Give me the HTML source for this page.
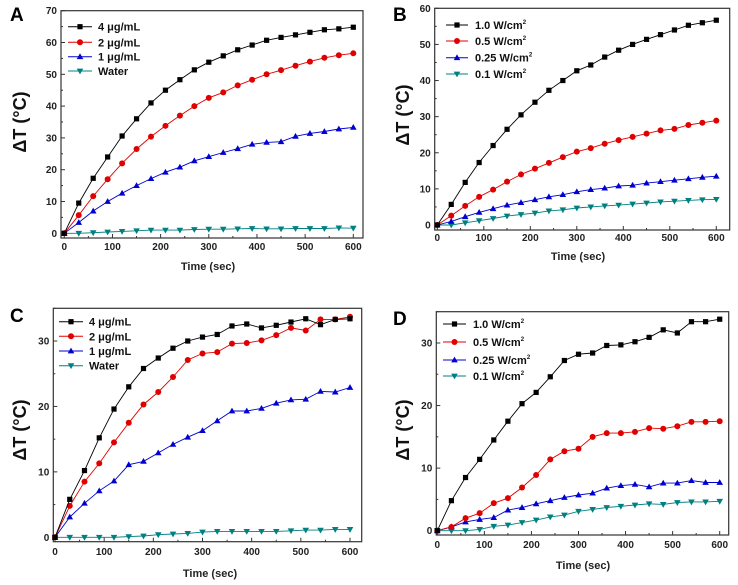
<!DOCTYPE html>
<html><head><meta charset="utf-8"><style>
html,body{margin:0;padding:0;background:#fff;}
svg{display:block;font-family:"Liberation Sans",Arial,sans-serif;font-weight:bold;}
</style></head><body>
<svg id="s" width="738" height="585" xmlns="http://www.w3.org/2000/svg"></svg>
<script>
const S=document.getElementById('s');let h='';
const cols=['#000','#e00000','#0000d0','#008080'];
const panels=[
{L:'A',lx:10,ly:21,fx0:61,fx1:363,fy0:10.7,fy1:238,x0:64.3,x1:353.3,y0:233.3,ymax:70,ystep:10,top:70,
 yl:[20,122],tl:[208,270],tky:250,
 leg:{lx0:68,lx1:92,tx:98,ys:[26.7,42.3,56.7,71]},labels:['4 \u03bcg/mL','2 \u03bcg/mL','1 \u03bcg/mL','Water'],
 d:[[0,9.5,17.3,24,30.6,36,41,45,48.3,51.4,53.8,55.8,57.7,59.2,60.7,61.6,62.4,63.2,64,64.3,64.8],
 [0,5.7,11.7,17,22,26.5,30.4,33.8,37,40,42.6,44.3,46.5,48.3,50,51.3,52.7,54,55.2,56,56.6],
 [0,3.4,7,10,12.6,15,17.2,19.2,20.8,22.8,24.1,25.4,26.6,28,28.6,28.8,30.5,31.4,32,32.8,33.3],
 [0,0,0.2,0.4,0.6,0.8,1,1,1,1.2,1.3,1.3,1.4,1.5,1.4,1.4,1.5,1.5,1.5,1.7,1.6]]},
{L:'B',lx:393,ly:21,fx0:434.7,fx1:729.7,fy0:8.3,fy1:230,x0:437.3,x1:716.3,y0:225,ymax:60,ystep:10,top:60,
 yl:[403,115],tl:[578,260],tky:241,
 leg:{lx0:446,lx1:468,tx:475,ys:[25,41,57.7,74]},labels:['1.0 W/cm','0.5 W/cm','0.25 W/cm','0.1 W/cm'],sup:true,
 d:[[0,5.7,11.8,17.3,22,26.5,30.5,34,37.3,40,42.7,44.3,46.5,48.4,50,51.4,52.7,54,55.3,56,56.7],
 [0,2.6,5.3,7.8,9.8,12,14,15.6,17.2,18.8,20.3,21.3,22.5,23.5,24.4,25.3,26.2,26.6,27.7,28.3,28.9],
 [0,1,2.3,3.5,4.5,5.5,6.2,7,7.8,8.4,9.2,9.8,10.2,10.8,11,11.6,12,12.4,12.8,13.2,13.5],
 [0,0,0.6,1.2,1.8,2.5,2.9,3.3,3.9,4.2,4.7,5,5.3,5.5,5.8,6.1,6.4,6.6,6.8,7,7.1]]},
{L:'C',lx:10,ly:322,fx0:53.3,fx1:361.7,fy0:308.3,fy1:541.7,x0:55,x1:350,y0:537.3,ymax:35,ystep:10,top:35,
 yl:[20,430],tl:[210,577],tky:555,
 leg:{lx0:59,lx1:83,tx:89,ys:[321.7,336.3,351,365.7]},labels:['4 \u03bcg/mL','2 \u03bcg/mL','1 \u03bcg/mL','Water'],
 d:[[0,5.8,10.2,15.2,19.6,23,25.8,27.4,28.9,30,30.6,31,32.3,32.6,32,32.4,32.9,33.4,32.5,33.3,33.4],
 [0,4.8,8.5,11.3,14.5,17.5,20.3,22.2,24.5,27.1,28.1,28.3,29.6,29.7,30.1,30.9,32,31.6,33.3,33.3,33.7],
 [0,3.1,5.2,7.1,8.6,11.1,11.6,12.9,14.2,15.3,16.3,17.8,19.3,19.3,19.7,20.5,21,21.1,22.3,22.2,22.9],
 [0,0,0,0,0,0.1,0.2,0.4,0.5,0.6,0.8,0.9,0.9,0.9,0.9,0.9,1,1.1,1.1,1.2,1.2]]},
{L:'D',lx:393,ly:325,fx0:436.3,fx1:728.7,fy0:311.7,fy1:535,x0:437.3,x1:719.7,y0:530.7,ymax:35,ystep:10,top:35,
 yl:[403,430],tl:[583,569],tky:548,
 leg:{lx0:443,lx1:466,tx:473,ys:[324,342,360,376]},labels:['1.0 W/cm','0.5 W/cm','0.25 W/cm','0.1 W/cm'],sup:true,
 d:[[0,4.8,8.5,11.4,14.5,17.5,20.3,22.1,24.6,27.2,28.2,28.4,29.6,29.7,30.2,30.9,32.1,31.6,33.4,33.4,33.8],
 [0,0.6,2,2.8,4.4,5.2,6.9,8.9,11.4,12.7,13.1,15,15.6,15.6,15.8,16.4,16.3,16.7,17.4,17.4,17.5],
 [0,0.6,1.4,1.8,2.1,3.3,3.7,4.3,4.8,5.3,5.7,6,6.8,7.2,7.4,7,7.6,7.6,8,7.7,7.7],
 [0,0,0,0.2,0.7,0.9,1.3,1.7,2.2,2.5,3.1,3.4,3.7,3.9,4.1,4.3,4.2,4.5,4.6,4.6,4.7]]}
];
function mk(i,x,y){const c=cols[i];
 if(i==0)return `<rect x="${x-2.6}" y="${y-2.6}" width="5.2" height="5.2" fill="${c}"/>`;
 if(i==1)return `<circle cx="${x}" cy="${y}" r="3" fill="${c}"/>`;
 if(i==2)return `<polygon points="${x},${y-3.4} ${x-3.3},${y+2.4} ${x+3.3},${y+2.4}" fill="${c}"/>`;
 return `<polygon points="${x},${y+3.4} ${x-3.3},${y-2.4} ${x+3.3},${y-2.4}" fill="${c}"/>`;}
for(const p of panels){
 const sy=(p.y0-p.fy0)/p.top, X=t=>p.x0+(p.x1-p.x0)*t/600, Y=v=>p.y0-v*sy;
 h+=`<rect x="${p.fx0}" y="${p.fy0}" width="${p.fx1-p.fx0}" height="${p.fy1-p.fy0}" fill="none" stroke="#333" stroke-width="1.2"/>`;
 for(let t=0;t<=600;t+=50){const x=X(t),L=t%100?2:4;h+=`<line x1="${x}" y1="${p.fy1}" x2="${x}" y2="${p.fy1-L}" stroke="#333"/>`;
  if(t%100==0)h+=`<text x="${x}" y="${p.tky}" font-size="10" text-anchor="middle" fill="#222">${t}</text>`;}
 for(let v=0;v<=p.top;v+=5){const y=Y(v),L=v%10?2:4;h+=`<line x1="${p.fx0}" y1="${y}" x2="${p.fx0+L}" y2="${y}" stroke="#333"/>`;
  if(v%10==0)h+=`<text x="${p.fx0-4}" y="${y+3.5}" font-size="10" text-anchor="end" fill="#222">${v}</text>`;}
 h+=`<text x="${p.tl[0]}" y="${p.tl[1]}" font-size="11" text-anchor="middle" fill="#222">Time (sec)</text>`;
 h+=`<text transform="translate(${p.yl[0]+6},${p.yl[1]}) rotate(-90)" font-size="18" text-anchor="middle" fill="#111">\u0394T (\u00b0C)</text>`;
 h+=`<text x="${p.lx}" y="${p.ly}" font-size="19" fill="#000">${p.L}</text>`;
 for(let i=3;i>=0;i--){const d=p.d[i];
  h+=`<polyline fill="none" stroke="${cols[i]}" stroke-width="0.9" points="${d.map((v,k)=>X(k*30).toFixed(1)+','+Y(v).toFixed(1)).join(' ')}"/>`;
  d.forEach((v,k)=>h+=mk(i,X(k*30),Y(v)));}
 p.leg.ys.forEach((y,i)=>{h+=`<line x1="${p.leg.lx0}" y1="${y}" x2="${p.leg.lx1}" y2="${y}" stroke="${cols[i]}"/>`+mk(i,(p.leg.lx0+p.leg.lx1)/2,y);
  h+=`<text x="${p.leg.tx}" y="${y+4}" font-size="11" fill="#111">${p.labels[i]}${p.sup?'<tspan font-size="6" dy="-5">2</tspan>':''}</text>`;});
}
S.innerHTML=h;
</script>
</body></html>
